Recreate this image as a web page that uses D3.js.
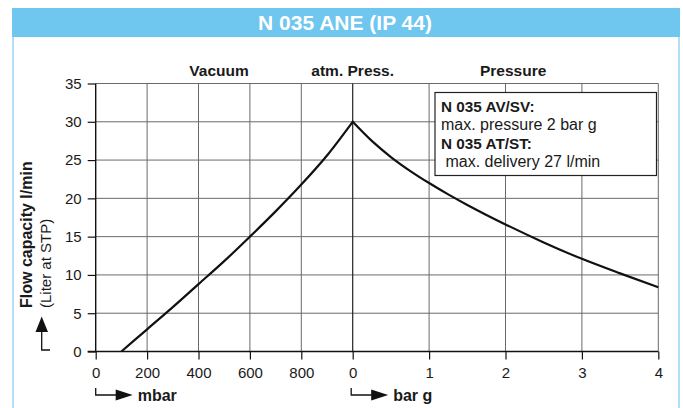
<!DOCTYPE html>
<html>
<head>
<meta charset="utf-8">
<script src="https://cdn.jsdelivr.net/npm/d3@7"></script>
<style>
  html, body { margin: 0; padding: 0; background: #fff; }
  svg { display: block; font-family: "Liberation Sans", Arial, sans-serif; }
</style>
</head>
<body>
<svg id="chart" width="683" height="408"></svg>
<script>
// ---- data ----
const title = "N 035 ANE (IP 44)";
const vacuumMbar = [100, 200, 300, 400, 500, 600, 700, 800, 900, 1000];
const vacuumFlow = [0, 2.9, 5.8, 8.8, 11.8, 15, 18.3, 21.8, 25.6, 30];
const pressureBar = [0, 0.25, 0.5, 0.75, 1, 1.25, 1.5, 1.75, 2, 2.5, 3, 3.5, 4];
const pressureFlow = [30, 27.5, 25.4, 23.6, 22.0, 20.52, 19.14, 17.84, 16.6, 14.25, 12.1, 10.2, 8.4];
const yTicks = [0, 5, 10, 15, 20, 25, 30, 35];
const vacTicks = [0, 200, 400, 600, 800];
const presTicks = [0, 1, 2, 3, 4];
const regionLabels = ["Vacuum", "atm. Press.", "Pressure"];
const noteLines = ["N 035 AV/SV:", "max. pressure 2 bar g", "N 035 AT/ST:", " max. delivery 27 l/min"];

const svg = d3.select("#chart");

// frame + title bar
svg.append("line").attr("x1", 13).attr("x2", 13).attr("y1", 30).attr("y2", 408)
  .attr("stroke", "#b3def4").attr("stroke-width", 2);
svg.append("line").attr("x1", 679).attr("x2", 679).attr("y1", 30).attr("y2", 408)
  .attr("stroke", "#b3def4").attr("stroke-width", 2);
svg.append("rect").attr("x", 12).attr("y", 8).attr("width", 668).attr("height", 29)
  .attr("fill", "#6fc6ee");
svg.append("text").attr("x", 345).attr("y", 29.5).attr("text-anchor", "middle")
  .attr("fill", "#fff").attr("font-weight", "bold").attr("font-size", 21).text(title);

// scales
const x0 = 95.7, xAtm = 352.7, x1 = 658.3;
const xVac = d3.scaleLinear().domain([0, 1000]).range([x0, xAtm]);
const xPres = d3.scaleLinear().domain([0, 4]).range([xAtm, x1]);
const y = d3.scaleLinear().domain([0, 35]).range([351.5, 83.5]);

// grid
const grid = svg.append("g").attr("stroke", "#6a6a6a").attr("stroke-width", 1);
yTicks.filter(d => d > 0).forEach(d => {
  grid.append("line").attr("x1", x0).attr("x2", x1).attr("y1", y(d)).attr("y2", y(d));
});
vacTicks.filter(d => d > 0).forEach(d => {
  grid.append("line").attr("x1", xVac(d)).attr("x2", xVac(d)).attr("y1", y(0)).attr("y2", y(35));
});
presTicks.forEach(d => {
  grid.append("line").attr("x1", xPres(d)).attr("x2", xPres(d)).attr("y1", y(0)).attr("y2", y(35))
    .attr("stroke", d === 0 ? "#222" : "#6a6a6a").attr("stroke-width", d === 0 ? 1.2 : 1);
});

// axes
const styleAxis = g => {
  g.select(".domain").remove();
  g.selectAll(".tick line").attr("stroke", "#111").attr("stroke-width", 1.2);
  g.selectAll(".tick text").attr("fill", "#1a1a1a").attr("font-size", 15)
    .attr("font-family", "'Liberation Sans', Arial, sans-serif");
};
svg.append("g").attr("transform", `translate(${x0},0)`)
  .call(d3.axisLeft(y).tickValues(yTicks).tickSize(8).tickPadding(6))
  .call(styleAxis);
svg.append("g").attr("transform", `translate(0,${y(0)})`)
  .call(d3.axisBottom(xVac).tickValues(vacTicks).tickSize(8).tickPadding(8).tickFormat(d3.format("d")))
  .call(styleAxis);
svg.append("g").attr("transform", `translate(0,${y(0)})`)
  .call(d3.axisBottom(xPres).tickValues(presTicks).tickSize(8).tickPadding(8).tickFormat(d3.format("d")))
  .call(styleAxis);

// axis lines
svg.append("line").attr("x1", x0).attr("x2", x0).attr("y1", y(35)).attr("y2", y(0))
  .attr("stroke", "#111").attr("stroke-width", 1.4);
svg.append("line").attr("x1", x0 - 8).attr("x2", x1).attr("y1", y(0)).attr("y2", y(0))
  .attr("stroke", "#111").attr("stroke-width", 1.4);

// curve
const vacPts = vacuumMbar.map((m, i) => [xVac(m), y(vacuumFlow[i])]);
const presPts = pressureBar.map((b, i) => [xPres(b), y(pressureFlow[i])]);
const line = d3.line().curve(d3.curveMonotoneX);
const pathD = line(vacPts) + line(presPts).replace(/^M/, "L");
svg.append("path").attr("d", pathD).attr("fill", "none").attr("stroke", "#111")
  .attr("stroke-width", 2.2).attr("stroke-linejoin", "miter").attr("stroke-miterlimit", 20);

// region labels
const regionX = [xVac(480), xAtm, xPres(2.1)];
regionLabels.forEach((t, i) => {
  svg.append("text").attr("x", regionX[i]).attr("y", 76).attr("text-anchor", "middle")
    .attr("font-weight", "bold").attr("font-size", 15.5).attr("fill", "#1a1a1a").text(t);
});

// note box
svg.append("rect").attr("x", 435).attr("y", 92.5).attr("width", 221.5).attr("height", 83)
  .attr("fill", "#fff").attr("stroke", "#222").attr("stroke-width", 1.2);
const noteY = [111.5, 130, 148.5, 167];
noteLines.forEach((t, i) => {
  svg.append("text").attr("x", 441).attr("y", noteY[i])
    .attr("font-weight", i % 2 === 0 ? "bold" : "normal")
    .attr("font-size", i % 2 === 0 ? 15.3 : 16).attr("fill", "#1a1a1a")
    .attr("xml:space", "preserve").style("white-space", "pre").text(t);
});

// y axis title
const yl = svg.append("g");
yl.append("text").attr("transform", "translate(32,308) rotate(-90)")
  .attr("font-weight", "bold").attr("font-size", 16).attr("fill", "#1a1a1a").text("Flow capacity l/min");
yl.append("text").attr("transform", "translate(51,308) rotate(-90)")
  .attr("font-size", 15).attr("fill", "#1a1a1a").text("(Liter at STP)");
yl.append("path").attr("d", "M41.7,331 L41.7,350 L50,350").attr("fill", "none")
  .attr("stroke", "#111").attr("stroke-width", 1.3);
yl.append("path").attr("d", "M41.7,316.5 L35.5,332 L48,332 Z").attr("fill", "#111");

// unit arrows
function unitArrow(xs, label) {
  const yA = 395;
  svg.append("path").attr("d", `M${xs},388 L${xs},${yA} L${xs + 21},${yA}`).attr("fill", "none")
    .attr("stroke", "#111").attr("stroke-width", 1.3);
  svg.append("path").attr("d", `M${xs + 20},${yA - 5.5} L${xs + 37},${yA} L${xs + 20},${yA + 5.5} Z`).attr("fill", "#111");
  svg.append("text").attr("x", xs + 42).attr("y", 400.5).attr("font-weight", "bold")
    .attr("font-size", 16).attr("fill", "#1a1a1a").text(label);
}
unitArrow(x0, "mbar");
unitArrow(xAtm - 1.5, "bar g");
</script>
</body>
</html>
